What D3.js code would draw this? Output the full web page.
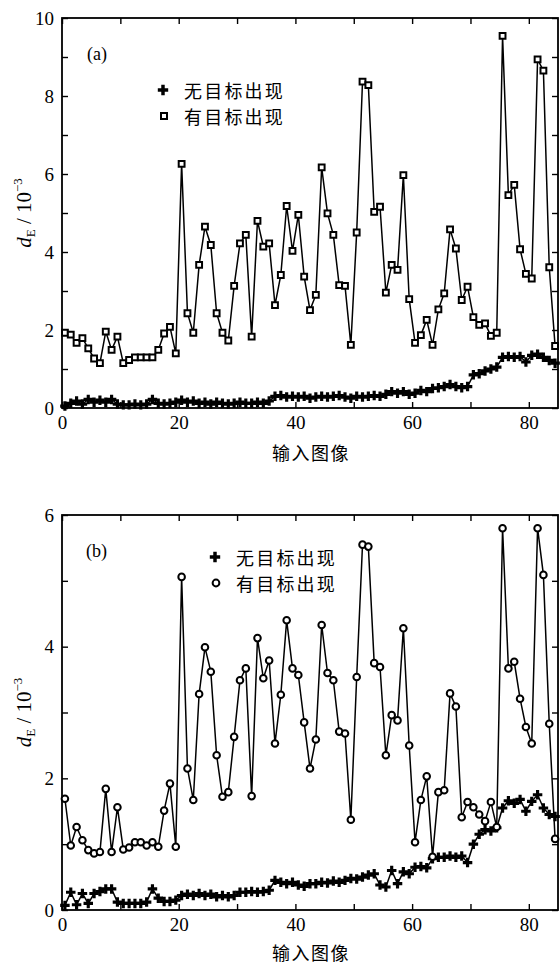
<!DOCTYPE html>
<html lang="zh">
<head>
<meta charset="UTF-8">
<title>d_E 输入图像</title>
<script src="https://d3js.org/d3.v7.min.js"></script>
<style>
  html, body { margin: 0; padding: 0; background: #fff; }
  svg { display: block; }
  text { font-family: "Liberation Serif", "Times New Roman", serif; fill: #000; }
  .cjk { font-family: "Noto Sans CJK SC", sans-serif; }
  .axis line { stroke: #000; stroke-width: 1.4px; }
  .axis path { display: none; }
  .axis text { font-size: 19px; font-family: "Liberation Serif", serif; }
</style>
</head>
<body>
<svg width="560" height="964"></svg>
<script>
// x: input image index (0..84), y: d_E / 10^-3
const xTickValues = [0, 10, 20, 30, 40, 50, 60, 70, 80];
const xTickLabels = [0, 20, 40, 60, 80];
const yTicksA = [0, 1, 2, 3, 4, 5, 6, 7, 8, 9, 10];
const yLabelsA = [0, 2, 4, 6, 8, 10];
const yTicksB = [0, 1, 2, 3, 4, 5, 6];
const yLabelsB = [0, 2, 4, 6];
const legendNames = ["无目标出现", "有目标出现"];

// panel (a)
const absentA = [0.05, 0.12, 0.18, 0.10, 0.22, 0.15, 0.20, 0.15, 0.22, 0.10,
  0.08, 0.08, 0.10, 0.08, 0.10, 0.22, 0.12, 0.10, 0.12, 0.15,
  0.20, 0.15, 0.18, 0.12, 0.15, 0.10, 0.15, 0.12, 0.10, 0.12,
  0.15, 0.12, 0.12, 0.15, 0.12, 0.18, 0.30, 0.32, 0.28, 0.30,
  0.28, 0.30, 0.25, 0.28, 0.30, 0.28, 0.30, 0.32, 0.28, 0.25,
  0.30, 0.28, 0.30, 0.32, 0.30, 0.35, 0.42, 0.38, 0.42, 0.35,
  0.38, 0.45, 0.42, 0.50, 0.52, 0.55, 0.60, 0.55, 0.52, 0.55,
  0.85, 0.88, 0.95, 1.00, 1.05, 1.30, 1.32, 1.30, 1.32, 1.18,
  1.35, 1.38, 1.30, 1.22, 1.15];
const presentA = [1.93, 1.88, 1.67, 1.79, 1.53, 1.27, 1.15, 1.96, 1.49, 1.83,
  1.15, 1.23, 1.30, 1.30, 1.30, 1.30, 1.49, 1.91, 2.08, 1.40,
  6.26, 2.43, 1.93, 3.67, 4.65, 4.18, 2.43, 1.93, 1.73, 3.13,
  4.22, 4.44, 1.83, 4.80, 4.14, 4.22, 2.64, 3.41, 5.18, 4.03,
  4.95, 3.37, 2.51, 2.90, 6.17, 4.99, 4.44, 3.15, 3.13, 1.62,
  4.50, 8.37, 8.28, 5.03, 5.16, 2.96, 3.67, 3.54, 5.97, 2.79,
  1.67, 1.87, 2.26, 1.62, 2.53, 2.94, 4.58, 4.09, 2.77, 3.11,
  2.33, 2.13, 2.17, 1.85, 1.93, 9.54, 5.46, 5.72, 4.07, 3.44,
  3.32, 8.94, 8.65, 3.61, 1.59];

// panel (b)
const absentB = [0.07, 0.27, 0.08, 0.25, 0.10, 0.25, 0.28, 0.32, 0.32, 0.12,
  0.10, 0.10, 0.10, 0.10, 0.12, 0.32, 0.18, 0.13, 0.13, 0.15,
  0.22, 0.24, 0.22, 0.25, 0.22, 0.24, 0.20, 0.22, 0.20, 0.22,
  0.27, 0.27, 0.28, 0.27, 0.28, 0.30, 0.45, 0.42, 0.40, 0.42,
  0.38, 0.36, 0.40, 0.40, 0.42, 0.41, 0.44, 0.42, 0.45, 0.48,
  0.47, 0.50, 0.53, 0.55, 0.38, 0.35, 0.60, 0.40, 0.58, 0.55,
  0.65, 0.66, 0.64, 0.78, 0.80, 0.80, 0.82, 0.80, 0.82, 0.72,
  1.00, 1.15, 1.22, 1.20, 1.25, 1.55, 1.66, 1.62, 1.68, 1.50,
  1.65, 1.75, 1.55, 1.45, 1.42];
const presentB = [1.69, 0.98, 1.26, 1.06, 0.91, 0.86, 0.88, 1.84, 0.88, 1.56,
  0.92, 0.95, 1.03, 1.03, 0.98, 1.03, 0.96, 1.51, 1.92, 0.96,
  5.06, 2.15, 1.67, 3.28, 3.99, 3.62, 2.35, 1.72, 1.79, 2.63,
  3.49, 3.67, 1.73, 4.13, 3.52, 3.79, 2.53, 3.27, 4.40, 3.67,
  3.57, 2.85, 2.15, 2.59, 4.33, 3.60, 3.49, 2.71, 2.68, 1.37,
  3.54, 5.55, 5.52, 3.75, 3.69, 2.35, 2.96, 2.88, 4.28, 2.50,
  1.03, 1.67, 2.03, 0.81, 1.79, 1.82, 3.29, 3.09, 1.41, 1.64,
  1.56, 1.45, 1.35, 1.64, 1.26, 5.80, 3.67, 3.77, 3.21, 2.78,
  2.53, 5.80, 5.09, 2.83, 1.08];

const svg = d3.select("svg");
svg.append("rect").attr("width", 560).attr("height", 964).attr("fill", "#fff");

const panels = [
  { tag: "(a)", top: 18, bottom: 408, yMax: 10, yTicks: yTicksA, yLabels: yLabelsA,
    absent: absentA, present: presentA, presentShape: d3.symbolSquare,
    tagPos: [87, 60], legend: [163, 90, 26], xlabelY: 452 },
  { tag: "(b)", top: 515, bottom: 910, yMax: 6, yTicks: yTicksB, yLabels: yLabelsB,
    absent: absentB, present: presentB, presentShape: d3.symbolCircle,
    tagPos: [86, 557], legend: [215, 557, 26], xlabelY: 952 }
];

const x = d3.scaleLinear().domain([0, 85]).range([62, 558]);

panels.forEach(p => {
  const y = d3.scaleLinear().domain([0, p.yMax]).range([p.bottom, p.top]);
  const g = svg.append("g");

  // axes, ticks pointing inward on all four sides
  g.append("g").attr("class", "axis")
    .attr("transform", `translate(0,${p.bottom})`)
    .call(d3.axisBottom(x).tickValues(xTickValues).tickSizeInner(-6).tickSizeOuter(0).tickPadding(8)
      .tickFormat(d => xTickLabels.includes(d) ? d : ""));
  g.append("g").attr("class", "axis")
    .attr("transform", `translate(0,${p.top})`)
    .call(d3.axisTop(x).tickValues(xTickValues).tickSizeInner(-6).tickSizeOuter(0).tickFormat(""));
  g.append("g").attr("class", "axis")
    .attr("transform", `translate(62,0)`)
    .call(d3.axisLeft(y).tickValues(p.yTicks).tickSizeInner(-6).tickSizeOuter(0).tickPadding(8)
      .tickFormat(d => p.yLabels.includes(d) ? d : ""));
  g.append("g").attr("class", "axis")
    .attr("transform", `translate(558,0)`)
    .call(d3.axisRight(y).tickValues(p.yTicks).tickSizeInner(-6).tickSizeOuter(0).tickFormat(""));

  g.append("rect")
    .attr("x", 62).attr("y", p.top)
    .attr("width", 558 - 62).attr("height", p.bottom - p.top)
    .attr("fill", "none").attr("stroke", "#000").attr("stroke-width", 1.8);

  const line = d3.line().x((d, i) => x(i + 0.5)).y(d => y(d));

  // 无目标出现
  g.append("path").datum(p.absent).attr("d", line)
    .attr("fill", "none").attr("stroke", "#000").attr("stroke-width", 1.5);
  g.selectAll(".abs").data(p.absent).join("path")
    .attr("class", "abs")
    .attr("d", d3.symbol(d3.symbolCross, 50))
    .attr("transform", (d, i) => `translate(${x(i + 0.5)},${y(d)})`)
    .attr("fill", "#000");

  // 有目标出现
  g.append("path").datum(p.present).attr("d", line)
    .attr("fill", "none").attr("stroke", "#000").attr("stroke-width", 1.5);
  g.selectAll(".pre").data(p.present).join("path")
    .attr("class", "pre")
    .attr("d", d3.symbol(p.presentShape, 34))
    .attr("transform", (d, i) => `translate(${x(i + 0.5)},${y(d)})`)
    .attr("fill", "#fff").attr("stroke", "#000").attr("stroke-width", 2);

  // panel tag
  g.append("text").attr("x", p.tagPos[0]).attr("y", p.tagPos[1])
    .attr("font-size", 18).text(p.tag);

  // legend
  const [lx, ly, dy] = p.legend;
  g.append("path").attr("d", d3.symbol(d3.symbolCross, 60)())
    .attr("transform", `translate(${lx},${ly})`).attr("fill", "#000");
  g.append("path").attr("d", d3.symbol(p.presentShape, 36)())
    .attr("transform", `translate(${lx + 1},${ly + dy})`)
    .attr("fill", "#fff").attr("stroke", "#000").attr("stroke-width", 2);
  legendNames.forEach((name, k) => {
    g.append("text").attr("class", "cjk")
      .attr("x", lx + 21).attr("y", ly + k * dy)
      .attr("dominant-baseline", "central")
      .attr("font-size", 18).attr("letter-spacing", 2.2)
      .text(name);
  });

  // y label: d_E / 10^-3
  const yl = g.append("text")
    .attr("transform", `translate(31,${(p.top + p.bottom) / 2}) rotate(-90)`)
    .attr("text-anchor", "middle").attr("font-size", 21);
  yl.append("tspan").attr("font-style", "italic").text("d");
  yl.append("tspan").attr("font-size", 13).attr("dy", 4).text("E");
  yl.append("tspan").attr("dy", -4).text(" / 10");
  yl.append("tspan").attr("font-size", 13).attr("dy", -9).text("−3");

  // x label
  g.append("text").attr("class", "cjk")
    .attr("x", 311).attr("y", p.xlabelY)
    .attr("text-anchor", "middle").attr("dominant-baseline", "central")
    .attr("font-size", 18).attr("letter-spacing", 1.5)
    .text("输入图像");
});
</script>
</body>
</html>
